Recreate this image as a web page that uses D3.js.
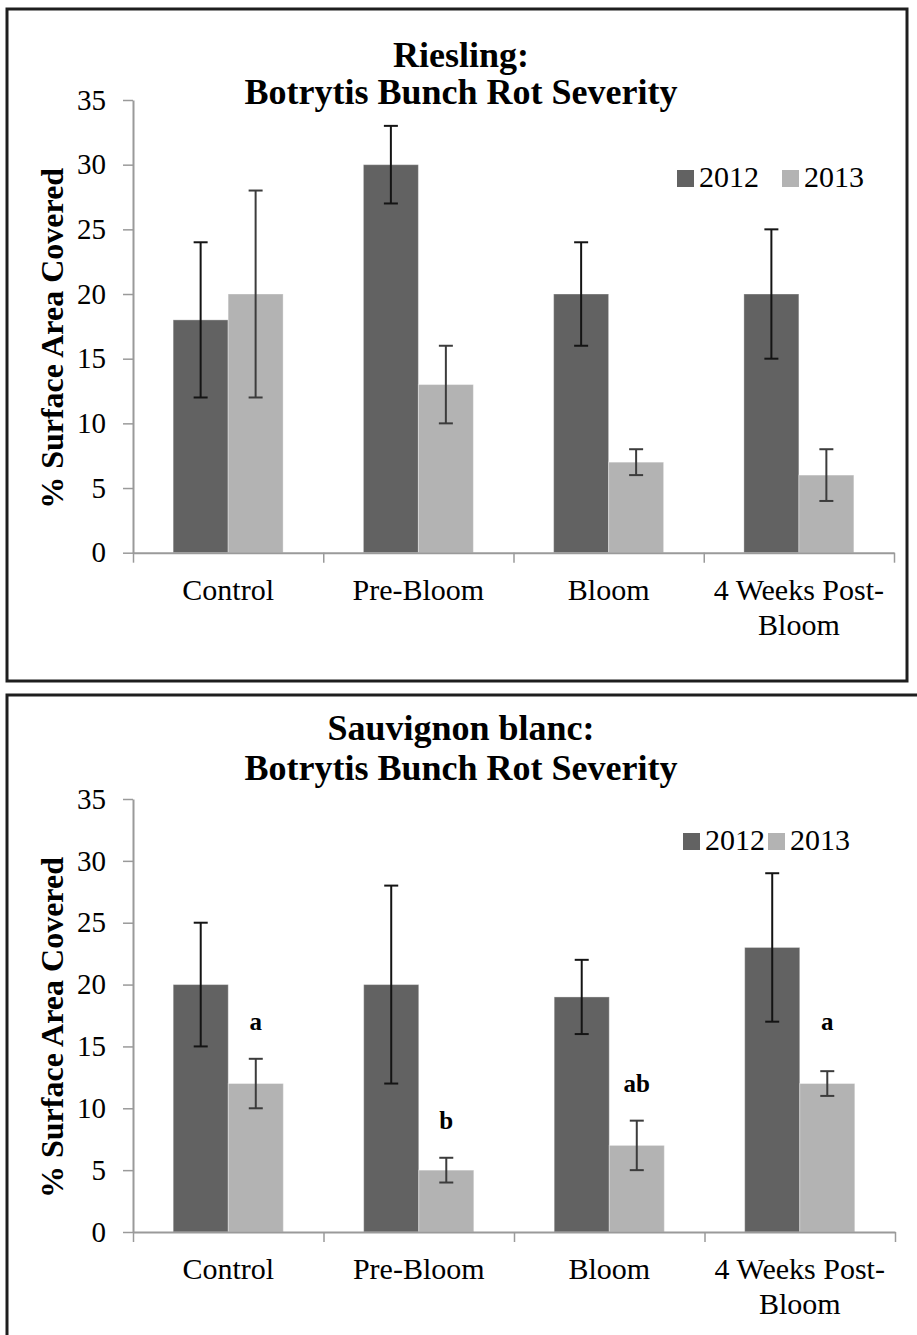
<!DOCTYPE html>
<html>
<head>
<meta charset="utf-8">
<script src="https://cdn.jsdelivr.net/npm/d3@7"></script>
<style>
  body { margin: 0; background: #fff; }
  svg { display: block; font-family: "Liberation Serif", "Times New Roman", serif; }
</style>
</head>
<body>
<div id="chart"></div>
<script>
const width = 917;
const height = 1335;

// shared categories / ticks
const categories = ["Control", "Pre-Bloom", "Bloom", "4 Weeks Post-Bloom"];
const categoryLines = [["Control"], ["Pre-Bloom"], ["Bloom"], ["4 Weeks Post-", "Bloom"]];
const years = ["2012", "2013"];
const yTicks = [0, 5, 10, 15, 20, 25, 30, 35];

// Riesling
const riesling2012 = [18, 30, 20, 20];
const riesling2012Low = [12, 27, 16, 15];
const riesling2012High = [24, 33, 24, 25];
const riesling2013 = [20, 13, 7, 6];
const riesling2013Low = [12, 10, 6, 4];
const riesling2013High = [28, 16, 8, 8];

// Sauvignon blanc
const sauv2012 = [20, 20, 19, 23];
const sauv2012Low = [15, 12, 16, 17];
const sauv2012High = [25, 28, 22, 29];
const sauv2013 = [12, 5, 7, 12];
const sauv2013Low = [10, 4, 5, 11];
const sauv2013High = [14, 6, 9, 13];
const sauvLetters = ["a", "b", "ab", "a"];
const sauvLetterAt = [17, 9, 12, 17];

const color = d3.scaleOrdinal().domain(years).range(["#626262", "#b3b3b3"]);
const errColor = d3.scaleOrdinal().domain(years).range(["#141414", "#3c3c3c"]);

const svg = d3.select("#chart")
    .append("svg")
    .attr("width", width)
    .attr("height", height);

function buildRows(v12, lo12, hi12, v13, lo13, hi13) {
    return categories.map((c, i) => ({
        category: c,
        values: [
            { year: "2012", value: v12[i], low: lo12[i], high: hi12[i] },
            { year: "2013", value: v13[i], low: lo13[i], high: hi13[i] }
        ]
    }));
}

function drawPanel(p, rows, letters, letterAt) {
    const g = svg.append("g");

    // frame
    g.append("rect")
        .attr("x", p.box[0]).attr("y", p.box[1])
        .attr("width", p.box[2]).attr("height", p.box[3])
        .attr("fill", "none")
        .attr("stroke", "#1e1e1e")
        .attr("stroke-width", 3);

    const x0 = d3.scaleBand().domain(categories).range([p.left, p.right]).paddingInner(0).paddingOuter(0);
    const x1 = d3.scaleBand().domain(years).range([0, x0.bandwidth()]).paddingInner(0).paddingOuter(0.73);
    const y = d3.scaleLinear().domain([0, 35]).range([p.bottom, p.top]);
    const xb = d3.scaleLinear().domain([0, categories.length]).range([p.left, p.right]);

    // title
    const title = g.append("text")
        .attr("x", p.titleX)
        .attr("y", p.titleY)
        .attr("text-anchor", "middle")
        .style("font-size", "36px")
        .style("font-weight", "bold")
        .style("fill", "#000");
    p.title.forEach((t, i) => {
        title.append("tspan").attr("x", p.titleX).attr("dy", i === 0 ? 0 : p.titleGap).text(t);
    });

    // y axis
    const yAxis = g.append("g")
        .attr("transform", `translate(${p.left},0)`)
        .call(d3.axisLeft(y).tickValues(yTicks).tickSize(10).tickSizeOuter(0).tickPadding(17));
    yAxis.attr("font-family", null);
    yAxis.select(".domain").attr("stroke", "#9a9a9a").attr("stroke-width", 2);
    yAxis.selectAll(".tick line").attr("stroke", "#9a9a9a").attr("stroke-width", 1.5);
    yAxis.selectAll(".tick text").style("font-size", "29px").style("fill", "#000");

    // bars
    const groups = g.append("g")
        .selectAll(".grp")
        .data(rows)
        .enter().append("g")
        .attr("class", "grp")
        .attr("transform", d => `translate(${x0(d.category)},0)`);

    groups.selectAll("rect")
        .data(d => d.values)
        .enter().append("rect")
        .attr("x", d => x1(d.year))
        .attr("y", d => y(d.value))
        .attr("width", x1.bandwidth())
        .attr("height", d => y(0) - y(d.value))
        .attr("fill", d => color(d.year))
        .attr("stroke", "rgba(255,255,255,0.35)")
        .attr("stroke-width", 1);

    // error bars
    const err = groups.selectAll(".err")
        .data(d => d.values)
        .enter().append("g")
        .attr("class", "err")
        .attr("stroke", d => errColor(d.year))
        .attr("stroke-width", 2);
    err.append("line")
        .attr("x1", d => x1(d.year) + x1.bandwidth() / 2)
        .attr("x2", d => x1(d.year) + x1.bandwidth() / 2)
        .attr("y1", d => y(d.low))
        .attr("y2", d => y(d.high));
    err.selectAll(".cap")
        .data(d => [d.low, d.high].map(v => ({ year: d.year, v: v })))
        .enter().append("line")
        .attr("x1", d => x1(d.year) + x1.bandwidth() / 2 - 7)
        .attr("x2", d => x1(d.year) + x1.bandwidth() / 2 + 7)
        .attr("y1", d => y(d.v))
        .attr("y2", d => y(d.v));

    // x axis: boundary ticks
    const xAxis = g.append("g")
        .attr("transform", `translate(0,${p.bottom})`)
        .call(d3.axisBottom(xb).tickValues(d3.range(categories.length + 1)).tickFormat("").tickSize(10).tickSizeOuter(0));
    xAxis.select(".domain").attr("stroke", "#9a9a9a").attr("stroke-width", 2);
    xAxis.selectAll(".tick line").attr("stroke", "#9a9a9a").attr("stroke-width", 1.5);

    // category labels
    const lab = g.append("g")
        .attr("transform", `translate(0,${p.bottom})`)
        .call(d3.axisBottom(x0).tickSize(0).tickPadding(26));
    lab.attr("font-family", null);
    lab.select(".domain").remove();
    lab.selectAll(".tick text")
        .style("font-size", "30px")
        .style("fill", "#000")
        .text(null)
        .each(function(d, i) {
            const t = d3.select(this);
            categoryLines[i].forEach((line, j) => {
                t.append("tspan").attr("x", 0).attr("dy", j === 0 ? "0.71em" : 35).text(line);
            });
        });

    // y title
    g.append("text")
        .attr("transform", `translate(${p.yTitleX},${(p.top + p.bottom) / 2 + 12}) rotate(-90)`)
        .attr("text-anchor", "middle")
        .style("font-size", "32px")
        .style("font-weight", "bold")
        .text("% Surface Area Covered");

    // legend
    const legend = g.append("g");
    const items = legend.selectAll(".legend-item")
        .data(years)
        .enter().append("g")
        .attr("class", "legend-item")
        .attr("transform", (d, i) => `translate(${p.legendX[i]},${p.legendY})`);
    items.append("rect")
        .attr("x", 0).attr("y", -17)
        .attr("width", 17).attr("height", 17)
        .attr("fill", color);
    items.append("text")
        .attr("x", 22)
        .attr("y", 0)
        .style("font-size", "30px")
        .text(d => d);

    // significance letters
    if (letters) {
        g.append("g")
            .selectAll(".letter")
            .data(rows)
            .enter().append("text")
            .attr("class", "letter")
            .attr("x", d => x0(d.category) + x1("2013") + x1.bandwidth() / 2)
            .attr("y", (d, i) => y(letterAt[i]))
            .attr("dy", "0.35em")
            .attr("text-anchor", "middle")
            .style("font-size", "25px")
            .style("font-weight", "bold")
            .text((d, i) => letters[i]);
    }
}

drawPanel({
    box: [7, 9, 900, 672],
    left: 133, right: 894, top: 100, bottom: 552.7,
    title: ["Riesling:", "Botrytis Bunch Rot Severity"], titleX: 461, titleY: 67, titleGap: 37,
    yTitleX: 63,
    legendX: [677, 782], legendY: 187
}, buildRows(riesling2012, riesling2012Low, riesling2012High, riesling2013, riesling2013Low, riesling2013High));

drawPanel({
    box: [7, 695, 920, 700],
    left: 133, right: 895, top: 799, bottom: 1232,
    title: ["Sauvignon blanc:", "Botrytis Bunch Rot Severity"], titleX: 461, titleY: 740, titleGap: 40,
    yTitleX: 63,
    legendX: [683, 768], legendY: 850
}, buildRows(sauv2012, sauv2012Low, sauv2012High, sauv2013, sauv2013Low, sauv2013High), sauvLetters, sauvLetterAt);
</script>
</body>
</html>
